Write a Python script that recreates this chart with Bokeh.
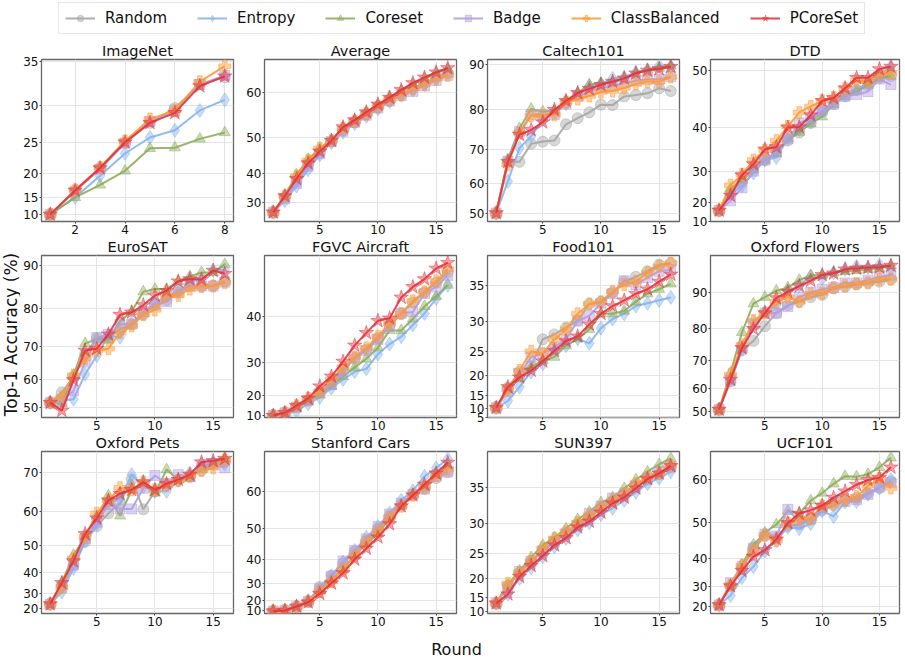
import math
from bokeh.plotting import figure
from bokeh.models import (FixedTicker, CustomJSTickFormatter, Range1d, ColumnDataSource,
                          Legend, LegendItem)
from bokeh.layouts import row, column
from bokeh.embed import file_html
from bokeh.resources import INLINE

# ---------------- data ----------------
methods = ["Random", "Entropy", "Coreset", "Badge", "ClassBalanced", "PCoreSet"]

imagenet = {
    "Random":        [10.0, 16.5, 21.0, 25.0, 27.8, 29.7, 32.5, 33.3],
    "Entropy":       [10.0, 15.0, 19.6, 23.4, 25.8, 26.8, 29.4, 30.7],
    "Coreset":       [10.0, 15.0, 17.8, 20.5, 24.2, 24.3, 25.6, 26.5],
    "Badge":         [10.0, 16.5, 20.8, 25.0, 28.0, 29.3, 32.5, 33.5],
    "ClassBalanced": [10.0, 16.7, 21.1, 25.3, 28.3, 29.4, 32.8, 34.5],
    "PCoreSet":      [10.0, 16.6, 21.0, 25.1, 27.8, 29.1, 32.3, 33.4],
}
average = {
    "Random":        [25.6, 32.1, 37.6, 42.8, 46.1, 49.0, 51.7, 53.6, 55.4, 56.9, 58.3, 59.6, 60.9, 62.0, 63.1, 63.9],
    "Entropy":       [25.6, 30.7, 36.1, 41.3, 45.5, 48.7, 51.3, 53.3, 55.0, 56.6, 58.2, 59.5, 60.6, 61.7, 62.9, 64.3],
    "Coreset":       [25.6, 32.7, 39.8, 44.3, 47.3, 49.4, 52.3, 54.1, 55.9, 57.5, 59.2, 60.4, 61.7, 62.8, 64.0, 64.7],
    "Badge":         [25.6, 31.4, 37.0, 42.3, 45.8, 49.0, 51.5, 53.6, 55.2, 56.8, 58.3, 59.4, 60.3, 61.4, 62.5, 63.5],
    "ClassBalanced": [25.6, 32.5, 39.3, 44.0, 47.3, 49.2, 52.1, 53.8, 55.5, 57.1, 58.5, 59.6, 60.8, 61.7, 62.8, 63.5],
    "PCoreSet":      [25.6, 32.5, 38.5, 43.2, 46.4, 49.2, 52.5, 54.1, 55.9, 57.6, 59.0, 60.6, 62.0, 63.1, 64.1, 64.9],
}
caltech101 = {
    "Random":        [50.0, 66.6, 66.6, 71.5, 72.1, 72.4, 76.5, 78.0, 79.4, 81.2, 81.1, 83.1, 83.4, 83.8, 84.9, 84.3],
    "Entropy":       [50.0, 60.8, 70.4, 73.5, 77.6, 79.5, 81.4, 83.6, 85.5, 85.9, 87.1, 87.4, 88.4, 88.9, 89.8, 89.6],
    "Coreset":       [50.0, 67.3, 75.5, 80.2, 79.6, 79.8, 82.1, 83.9, 85.7, 86.1, 86.2, 87.1, 88.2, 88.9, 89.3, 89.8],
    "Badge":         [50.0, 66.8, 74.7, 78.8, 78.8, 78.9, 81.4, 83.2, 84.3, 85.0, 85.4, 86.1, 86.6, 86.9, 86.9, 87.5],
    "ClassBalanced": [50.0, 65.8, 74.3, 78.6, 78.6, 78.8, 81.8, 82.5, 83.2, 84.1, 84.3, 85.0, 85.9, 86.4, 86.4, 87.4],
    "PCoreSet":      [50.0, 66.6, 73.9, 75.1, 77.0, 80.0, 82.1, 83.9, 84.8, 85.7, 86.4, 87.1, 88.2, 88.8, 89.1, 89.6],
}
dtd = {
    "Random":        [16.6, 23.8, 27.1, 30.8, 32.8, 34.7, 37.2, 38.9, 40.8, 42.9, 44.3, 45.7, 46.8, 47.6, 48.8, 49.1],
    "Entropy":       [16.6, 23.2, 25.8, 29.5, 32.8, 33.4, 37.6, 39.5, 41.1, 43.2, 44.6, 46.0, 47.0, 47.9, 49.4, 50.6],
    "Coreset":       [16.6, 24.9, 27.6, 30.4, 32.8, 34.4, 37.6, 39.0, 40.7, 42.0, 44.3, 45.7, 46.5, 47.6, 48.7, 49.1],
    "Badge":         [16.6, 20.7, 25.2, 30.0, 32.8, 34.7, 37.6, 40.8, 41.7, 43.2, 44.3, 45.7, 46.0, 46.5, 48.6, 47.7],
    "ClassBalanced": [16.6, 26.0, 29.1, 32.8, 35.1, 37.2, 40.1, 42.8, 43.9, 44.9, 45.5, 47.0, 48.3, 48.2, 49.4, 49.6],
    "PCoreSet":      [16.6, 22.6, 28.9, 31.8, 35.3, 35.8, 39.9, 40.0, 42.3, 44.9, 45.4, 47.1, 48.8, 48.8, 50.2, 50.6],
}
eurosat = {
    "Random":        [51.7, 55.5, 60.8, 67.8, 72.2, 72.4, 74.6, 75.9, 78.4, 80.8, 82.0, 84.2, 85.3, 85.3, 85.4, 86.4],
    "Entropy":       [51.7, 52.4, 53.0, 61.6, 67.3, 72.9, 72.5, 76.3, 78.8, 81.2, 83.1, 83.8, 86.4, 86.8, 88.9, 89.0],
    "Coreset":       [51.7, 51.3, 61.3, 70.8, 72.0, 71.8, 76.7, 79.2, 84.0, 84.6, 84.6, 86.4, 87.5, 88.4, 88.4, 90.2],
    "Badge":         [51.7, 52.4, 56.1, 65.4, 72.4, 73.3, 75.9, 76.0, 79.2, 80.8, 81.6, 83.8, 85.3, 85.3, 85.3, 86.2],
    "ClassBalanced": [51.7, 53.9, 61.3, 66.4, 68.8, 69.3, 73.7, 75.5, 78.4, 79.6, 83.1, 83.1, 84.6, 85.2, 85.3, 86.1],
    "PCoreSet":      [51.7, 48.6, 59.7, 68.8, 69.3, 73.3, 78.4, 79.0, 80.8, 83.1, 84.2, 86.4, 86.9, 86.8, 88.8, 88.1],
}
fgvc_aircraft = {
    "Random":        [9.8, 11.8, 15.0, 18.0, 21.2, 24.4, 28.1, 31.0, 33.2, 35.7, 38.4, 40.6, 42.6, 44.4, 46.0, 47.7],
    "Entropy":       [9.8, 10.5, 12.9, 16.6, 19.3, 22.7, 25.4, 27.6, 28.4, 32.1, 34.4, 36.0, 38.4, 40.6, 43.3, 45.6],
    "Coreset":       [9.8, 11.5, 14.5, 17.8, 20.3, 23.3, 26.3, 28.8, 31.0, 33.6, 37.3, 37.3, 39.6, 41.9, 43.7, 45.6],
    "Badge":         [9.8, 11.8, 15.0, 18.0, 21.0, 23.8, 27.4, 31.4, 32.9, 35.4, 38.1, 40.6, 40.9, 44.2, 45.3, 47.2],
    "ClassBalanced": [9.8, 11.8, 15.7, 18.9, 21.5, 25.4, 28.8, 31.4, 33.6, 36.1, 38.7, 40.6, 42.9, 44.5, 46.3, 48.2],
    "PCoreSet":      [9.8, 11.8, 15.7, 18.9, 23.3, 26.3, 30.3, 34.1, 36.8, 39.2, 39.7, 43.5, 45.3, 46.6, 48.3, 49.2],
}
food101 = {
    "Random":        [10.5, 17.1, 20.9, 22.1, 27.1, 27.9, 29.0, 30.1, 32.5, 32.8, 34.1, 35.5, 36.1, 36.8, 37.6, 37.8],
    "Entropy":       [10.5, 13.1, 17.3, 20.9, 22.6, 25.4, 26.0, 27.2, 26.4, 28.9, 30.3, 31.1, 32.2, 32.6, 33.0, 33.4],
    "Coreset":       [10.5, 16.3, 19.4, 21.9, 23.3, 23.9, 26.0, 27.2, 28.7, 31.1, 31.1, 31.5, 32.8, 33.9, 34.5, 35.2],
    "Badge":         [10.5, 16.1, 20.5, 23.9, 24.6, 25.7, 27.1, 30.0, 30.8, 32.6, 33.9, 35.6, 35.1, 36.0, 36.8, 37.0],
    "ClassBalanced": [10.5, 16.6, 21.2, 25.0, 24.6, 27.1, 28.7, 31.1, 32.5, 32.8, 34.2, 35.1, 35.5, 36.6, 37.4, 37.8],
    "PCoreSet":      [10.5, 17.3, 19.7, 21.2, 23.1, 25.1, 26.8, 27.6, 29.5, 31.1, 32.2, 33.0, 33.9, 34.5, 35.5, 36.4],
}
oxford_flowers = {
    "Random":        [51.1, 62.6, 73.4, 76.3, 80.7, 84.4, 86.6, 87.5, 88.7, 89.3, 91.0, 91.4, 92.0, 92.4, 92.7, 93.3],
    "Entropy":       [51.1, 63.3, 73.6, 82.0, 84.8, 86.6, 90.4, 91.7, 94.0, 93.5, 95.0, 95.8, 96.5, 96.2, 96.9, 96.0],
    "Coreset":       [51.1, 65.8, 78.9, 87.0, 88.7, 90.4, 91.2, 93.1, 94.3, 94.4, 95.0, 95.3, 95.5, 95.8, 96.0, 96.7],
    "Badge":         [51.1, 63.3, 74.1, 81.2, 84.4, 84.4, 86.2, 88.7, 90.0, 90.8, 91.2, 92.4, 92.4, 93.1, 93.9, 94.4],
    "ClassBalanced": [51.1, 65.2, 75.1, 82.3, 84.4, 87.5, 88.7, 87.5, 89.6, 89.8, 91.2, 91.7, 92.2, 92.4, 93.3, 93.3],
    "PCoreSet":      [51.1, 63.3, 74.1, 79.9, 84.4, 88.5, 90.1, 91.6, 93.0, 94.4, 94.8, 95.8, 96.0, 96.2, 96.3, 96.7],
}
oxford_pets = {
    "Random":        [23.5, 34.0, 42.9, 51.1, 55.9, 59.6, 62.3, 68.4, 60.7, 65.4, 67.3, 68.3, 69.1, 70.5, 72.0, 72.5],
    "Entropy":       [23.5, 30.8, 41.6, 51.3, 56.6, 62.4, 63.5, 69.5, 66.6, 65.4, 65.4, 68.1, 69.9, 71.9, 72.0, 71.9],
    "Coreset":       [23.5, 35.7, 46.6, 52.6, 58.9, 64.3, 58.9, 65.8, 67.3, 65.0, 70.7, 68.3, 68.6, 71.1, 72.2, 73.2],
    "Badge":         [23.5, 33.1, 42.9, 52.1, 57.1, 61.9, 60.8, 60.8, 66.2, 69.3, 67.3, 69.5, 69.1, 71.1, 71.9, 71.1],
    "ClassBalanced": [23.5, 33.1, 45.4, 52.6, 59.6, 63.1, 66.3, 65.8, 67.7, 65.8, 66.9, 68.1, 69.1, 70.5, 71.1, 72.9],
    "PCoreSet":      [23.5, 35.4, 44.4, 53.6, 58.2, 63.1, 64.8, 65.8, 67.7, 65.8, 67.3, 68.3, 69.5, 72.4, 72.7, 73.2],
}
stanford_cars = {
    "Random":        [9.0, 10.0, 14.5, 19.0, 28.1, 33.5, 38.5, 42.8, 46.2, 50.0, 53.3, 56.6, 59.0, 60.5, 63.1, 64.5],
    "Entropy":       [9.0, 10.0, 14.8, 20.0, 27.1, 33.5, 39.0, 43.1, 47.4, 50.6, 54.4, 57.7, 60.1, 63.5, 65.4, 67.4],
    "Coreset":       [9.0, 10.0, 14.5, 19.0, 26.0, 31.6, 36.1, 41.4, 45.4, 48.5, 52.9, 56.2, 59.2, 60.9, 63.8, 65.9],
    "Badge":         [9.0, 10.0, 14.5, 19.0, 27.1, 33.2, 39.4, 43.1, 46.9, 50.6, 54.1, 57.0, 59.2, 60.5, 63.5, 64.5],
    "ClassBalanced": [9.0, 10.0, 14.5, 19.0, 25.6, 30.8, 36.3, 41.4, 45.9, 49.3, 53.3, 56.2, 59.0, 61.0, 63.7, 65.2],
    "PCoreSet":      [9.0, 10.0, 14.8, 18.5, 24.3, 30.0, 34.6, 40.0, 43.8, 47.4, 51.3, 56.2, 59.0, 61.6, 64.2, 66.6],
}
sun397 = {
    "Random":        [13.2, 18.2, 21.3, 23.3, 25.5, 27.1, 28.3, 29.7, 30.9, 32.2, 33.2, 34.0, 35.0, 36.0, 36.7, 37.5],
    "Entropy":       [13.2, 16.0, 20.0, 22.3, 24.4, 26.2, 27.6, 29.0, 30.1, 31.3, 32.2, 33.3, 34.4, 35.5, 36.2, 37.0],
    "Coreset":       [13.2, 18.4, 21.7, 24.3, 26.5, 27.8, 29.2, 30.6, 31.7, 33.0, 33.7, 34.9, 36.0, 37.0, 37.9, 38.6],
    "Badge":         [13.2, 17.7, 21.5, 23.6, 25.5, 27.1, 28.5, 29.7, 31.5, 32.5, 33.6, 34.2, 35.3, 36.2, 37.0, 37.6],
    "ClassBalanced": [13.2, 18.8, 21.3, 23.6, 25.9, 27.6, 28.7, 30.1, 31.2, 32.3, 33.3, 34.2, 35.5, 36.3, 36.8, 37.8],
    "PCoreSet":      [13.2, 16.0, 20.4, 22.7, 24.6, 26.5, 27.7, 29.4, 30.3, 31.6, 32.9, 33.7, 34.9, 36.1, 36.8, 37.7],
}
ucf101 = {
    "Random":        [21.1, 30.3, 36.7, 43.4, 46.6, 46.2, 49.2, 49.6, 50.8, 53.1, 54.2, 55.3, 56.0, 57.0, 58.1, 59.5],
    "Entropy":       [21.1, 26.1, 33.6, 37.5, 42.3, 45.5, 48.9, 48.6, 49.8, 52.9, 51.6, 55.0, 55.1, 56.7, 58.1, 59.9],
    "Coreset":       [21.1, 30.7, 38.2, 44.2, 47.5, 49.6, 52.9, 52.3, 55.3, 57.0, 59.0, 60.6, 60.5, 61.0, 62.4, 64.3],
    "Badge":         [21.1, 31.7, 37.5, 43.2, 47.1, 46.6, 53.3, 50.2, 51.0, 53.6, 54.8, 55.1, 55.5, 56.7, 58.3, 59.2],
    "ClassBalanced": [21.1, 30.7, 37.8, 42.5, 46.9, 45.3, 50.0, 51.0, 51.1, 54.1, 54.6, 55.5, 56.2, 58.6, 60.1, 58.1],
    "PCoreSet":      [21.1, 30.3, 36.1, 40.7, 42.7, 45.7, 50.0, 52.3, 53.1, 54.2, 56.0, 57.4, 58.8, 59.8, 60.3, 62.4],
}

# panel title, data, y-limits (accuracy units), y tick labels, x ticks
panels = [
    ("ImageNet", imagenet, (6.9, 35.2), [10, 15, 20, 25, 30, 35], [2, 4, 6, 8]),
    ("Average", average, (20.7, 66.5), [30, 40, 50, 60], [5, 10, 15]),
    ("Caltech101", caltech101, (46.7, 91.1), [50, 60, 70, 80, 90], [5, 10, 15]),
    ("DTD", dtd, (10.0, 51.7), [10, 20, 30, 40, 50], [5, 10, 15]),
    ("EuroSAT", eurosat, (45.7, 92.1), [50, 60, 70, 80, 90], [5, 10, 15]),
    ("FGVC Aircraft", fgvc_aircraft, (8.2, 50.3), [10, 20, 30, 40], [5, 10, 15]),
    ("Food101", food101, (4.6, 38.7), [5, 10, 15, 20, 25, 30, 35], [5, 10, 15]),
    ("Oxford Flowers", oxford_flowers, (47.3, 99.1), [50, 60, 70, 80, 90], [5, 10, 15]),
    ("Oxford Pets", oxford_pets, (15.5, 74.8), [20, 30, 40, 50, 60, 70], [5, 10, 15]),
    ("Stanford Cars", stanford_cars, (3.5, 69.0), [10, 20, 30, 40, 50, 60], [5, 10, 15]),
    ("SUN397", sun397, (9.0, 39.4), [10, 15, 20, 25, 30, 35], [5, 10, 15]),
    ("UCF101", ucf101, (15.2, 65.5), [20, 30, 40, 50, 60], [5, 10, 15]),
]

# ---------------- styles ----------------
colors = ["#a6a6a6", "#86b4f0", "#8cad5c", "#b39de6", "#ff9a33", "#e5323e"]
markers = ["circle", "diamond", "triangle", "square", "plus", "star"]
msizes = [11, 14, 11, 10, 12, 15]
FONT = "DejaVu Sans"

YLAB_W = 20
PW, PH = 223, 196
LEFT_B, RIGHT_B = 18, 10
LAST_W = 212
LEG_H, XLAB_H = 40, 32
TOTAL_W = YLAB_W + 3 * PW + LAST_W


def make_panel(title, data, ylim, yticks, xticks, last=False):
    n = len(data[methods[0]])
    span = n - 1
    xr = Range1d(1 - 0.05 * span, n + 0.05 * span)
    yr = Range1d(ylim[0] ** 2, ylim[1] ** 2)
    w = LAST_W if last else PW
    rb = 2 if last else RIGHT_B
    p = figure(width=w, height=PH, output_backend="svg", toolbar_location=None,
               x_range=xr, y_range=yr,
               min_border_left=LEFT_B, min_border_right=rb, min_border_top=18, min_border_bottom=15)
    p.title.text = title
    p.title.align = "center"
    p.title.text_font = FONT
    p.title.text_font_size = "14.5px"
    p.title.text_font_style = "normal"
    p.title.text_color = "#111111"
    p.title.standoff = 1
    p.title.offset = 0

    rounds = list(range(1, n + 1))
    for m, c, mk, s in zip(methods, colors, markers, msizes):
        vals = data[m]
        src = ColumnDataSource(dict(x=rounds, y2=[v * v for v in vals], acc=vals))
        p.line("x", "y2", source=src, line_color=c, line_width=2, line_alpha=0.9)
        p.scatter("x", "y2", source=src, marker=mk, size=s, fill_color=c, fill_alpha=0.45,
                  line_color=c, line_alpha=0.5, line_width=1)

    yt = FixedTicker(ticks=[t * t for t in yticks])
    p.yaxis.ticker = yt
    p.ygrid.ticker = yt
    p.yaxis.formatter = CustomJSTickFormatter(code="return String(Math.round(Math.sqrt(tick)));")
    xt = FixedTicker(ticks=xticks)
    p.xaxis.ticker = xt
    p.xgrid.ticker = xt

    for ax in (p.xaxis, p.yaxis):
        ax.axis_line_color = None
        ax.major_tick_line_color = "#444444"
        ax.major_tick_out = 2
        ax.major_tick_in = 0
        ax.minor_tick_line_color = None
        ax.major_label_text_font = FONT
        ax.major_label_text_font_size = "12px"
        ax.major_label_text_color = "#111111"
        ax.major_label_standoff = 1
    p.grid.grid_line_color = "#e4e4e4"
    p.grid.grid_line_width = 1
    p.outline_line_color = "#666666"
    p.outline_line_width = 1.3
    p.background_fill_color = "white"
    p.border_fill_color = "white"
    return p


figs = [make_panel(*args, last=(i % 4 == 3)) for i, args in enumerate(panels)]
grid = column([row(figs[i * 4:(i + 1) * 4]) for i in range(3)])

# y label
ylab = figure(width=YLAB_W, height=3 * PH, output_backend="svg", toolbar_location=None,
              x_range=Range1d(0, 1), y_range=Range1d(0, 1), min_border=0)
ylab.axis.visible = False
ylab.grid.visible = False
ylab.outline_line_color = None
ylab.text(x=[0.5], y=[0.5], text=["Top-1 Accuracy (%)"], angle=math.pi / 2,
          text_align="center", text_baseline="middle", text_font_size="17px",
          text_font={"value": FONT}, text_color="#111111")

# x label
xlab = figure(width=TOTAL_W, height=XLAB_H, output_backend="svg", toolbar_location=None,
              x_range=Range1d(0, TOTAL_W), y_range=Range1d(0, XLAB_H), min_border=0)
xlab.axis.visible = False
xlab.grid.visible = False
xlab.outline_line_color = None
xlab.text(x=[456], y=[11], text=["Round"], text_align="center",
          text_baseline="middle", text_font_size="16px", text_font={"value": FONT},
          text_color="#111111")

# legend
leg = figure(width=TOTAL_W, height=LEG_H, output_backend="svg", toolbar_location=None,
             x_range=Range1d(0, 1), y_range=Range1d(0, 1), min_border=0)
leg.axis.visible = False
leg.grid.visible = False
leg.outline_line_color = None
items = []
for m, c, mk, s in zip(methods, colors, markers, msizes):
    src = ColumnDataSource(dict(x=[float("nan")], y=[float("nan")]))
    lr = leg.line("x", "y", source=src, line_color=c, line_width=2, line_alpha=0.9)
    sr = leg.scatter("x", "y", source=src, marker=mk, size=s, fill_color=c, fill_alpha=0.45,
                     line_color=c, line_alpha=0.5)
    items.append(LegendItem(label=m, renderers=[lr, sr]))
legend = Legend(items=items, orientation="horizontal", location=(58, 6),
                label_text_font=FONT, label_text_font_size="15px", label_text_color="#111111",
                glyph_width=30, glyph_height=16, spacing=30, padding=6, margin=0,
                label_standoff=10, border_line_color="#d0d0d0", border_line_width=1,
                background_fill_color="white", background_fill_alpha=1)
leg.add_layout(legend, "center")

layout = column(leg, row(ylab, grid), xlab)

open("out.html", "w").write(file_html(layout, INLINE))
